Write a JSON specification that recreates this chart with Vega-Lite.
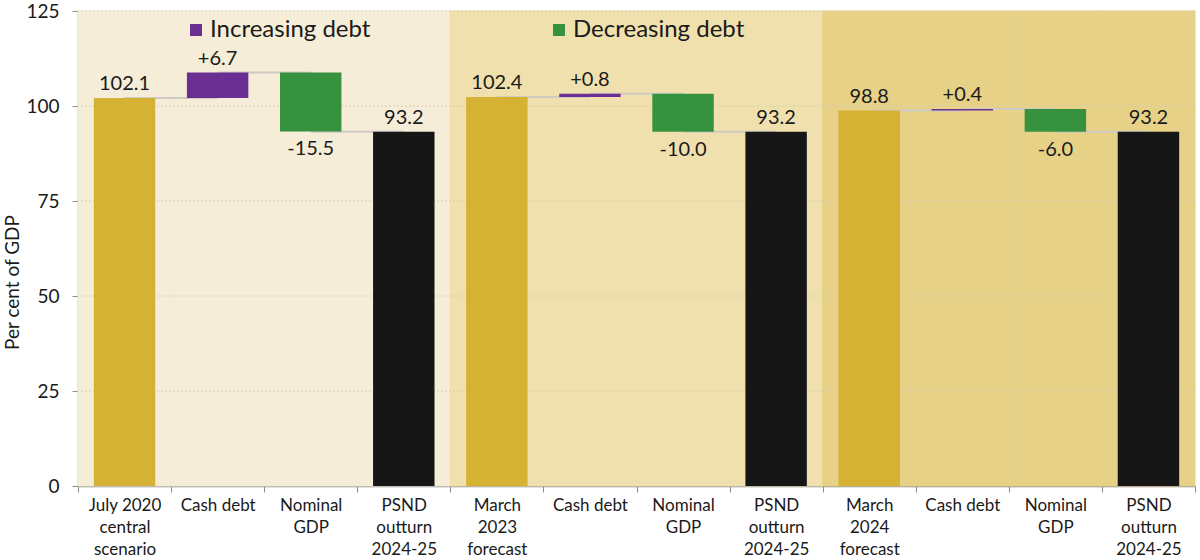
{
  "$schema": "https://vega.github.io/schema/vega-lite/v6.json",
  "width": 1117,
  "height": 475,
  "autosize": {"type": "none"},
  "padding": {"left": 78, "top": 11, "right": 5, "bottom": 74},
  "background": "white",
  "config": {
    "font": "Lato",
    "view": {"stroke": null},
    "text": {"font": "Lato", "color": "#1a1a1a"}
  },
  "datasets": {
    "steps": [
      {"cat": "1|July 2020|central|scenario", "grp": "A", "kind": "Forecast", "start": 0, "end": 102.1, "label": "102.1"},
      {"cat": "2|Cash debt", "grp": "A", "kind": "Increasing debt", "start": 102.1, "end": 108.8, "label": "+6.7"},
      {"cat": "3|Nominal|GDP", "grp": "A", "kind": "Decreasing debt", "start": 108.8, "end": 93.3, "label": "-15.5"},
      {"cat": "4|PSND|outturn|2024-25", "grp": "A", "kind": "Outturn", "start": 0, "end": 93.2, "label": "93.2"},
      {"cat": "5|March|2023|forecast", "grp": "B", "kind": "Forecast", "start": 0, "end": 102.4, "label": "102.4"},
      {"cat": "6|Cash debt", "grp": "B", "kind": "Increasing debt", "start": 102.4, "end": 103.2, "label": "+0.8"},
      {"cat": "7|Nominal|GDP", "grp": "B", "kind": "Decreasing debt", "start": 103.2, "end": 93.2, "label": "-10.0"},
      {"cat": "8|PSND|outturn|2024-25", "grp": "B", "kind": "Outturn", "start": 0, "end": 93.2, "label": "93.2"},
      {"cat": "9|March|2024|forecast", "grp": "C", "kind": "Forecast", "start": 0, "end": 98.8, "label": "98.8"},
      {"cat": "10|Cash debt", "grp": "C", "kind": "Increasing debt", "start": 98.8, "end": 99.2, "label": "+0.4"},
      {"cat": "11|Nominal|GDP", "grp": "C", "kind": "Decreasing debt", "start": 99.2, "end": 93.2, "label": "-6.0"},
      {"cat": "12|PSND|outturn|2024-25", "grp": "C", "kind": "Outturn", "start": 0, "end": 93.2, "label": "93.2"}
    ],
    "links": [
      {"from": "1|July 2020|central|scenario", "to": "2|Cash debt", "level": 102.1},
      {"from": "2|Cash debt", "to": "3|Nominal|GDP", "level": 108.8},
      {"from": "3|Nominal|GDP", "to": "4|PSND|outturn|2024-25", "level": 93.2},
      {"from": "5|March|2023|forecast", "to": "6|Cash debt", "level": 102.4},
      {"from": "6|Cash debt", "to": "7|Nominal|GDP", "level": 103.2},
      {"from": "7|Nominal|GDP", "to": "8|PSND|outturn|2024-25", "level": 93.2},
      {"from": "9|March|2024|forecast", "to": "10|Cash debt", "level": 98.8},
      {"from": "10|Cash debt", "to": "11|Nominal|GDP", "level": 99.2},
      {"from": "11|Nominal|GDP", "to": "12|PSND|outturn|2024-25", "level": 93.2}
    ],
    "gridlines": [{"v": 25}, {"v": 50}, {"v": 75}, {"v": 100}, {"v": 125}]
  },
  "layer": [
    {
      "data": {"name": "steps"},
      "mark": {"type": "bar", "width": {"band": 1}, "strokeWidth": 1},
      "encoding": {
        "x": {
          "field": "cat", "type": "nominal", "title": null,
          "scale": {
            "domain": ["1|July 2020|central|scenario", "2|Cash debt", "3|Nominal|GDP", "4|PSND|outturn|2024-25",
                       "5|March|2023|forecast", "6|Cash debt", "7|Nominal|GDP", "8|PSND|outturn|2024-25",
                       "9|March|2024|forecast", "10|Cash debt", "11|Nominal|GDP", "12|PSND|outturn|2024-25"],
            "paddingInner": 0, "paddingOuter": 0
          },
          "axis": {
            "labelExpr": "slice(split(datum.value, '|'), 1)",
            "labelAngle": 0,
            "labelFontSize": 17,
            "labelLineHeight": 22,
            "labelColor": "#1a1a1a",
            "labelPadding": 5,
            "labelBaseline": "top",
            "tickBand": "extent",
            "tickSize": 6,
            "tickColor": "#8c8c8c",
            "domainColor": "#8c8c8c",
            "domainWidth": 1.5,
            "grid": false
          }
        },
        "y": {"datum": 125, "type": "quantitative"},
        "y2": {"datum": 0},
        "color": {
          "field": "grp", "type": "nominal", "legend": null,
          "scale": {"domain": ["A", "B", "C"], "range": ["#F5EDD7", "#F0E0AD", "#E6D187"]}
        },
        "stroke": {
          "field": "grp", "type": "nominal", "legend": null,
          "scale": {"domain": ["A", "B", "C"], "range": ["#F5EDD7", "#F0E0AD", "#E6D187"]}
        }
      }
    },
    {
      "data": {"name": "gridlines"},
      "mark": {"type": "rule", "color": "#D8CDB0", "strokeWidth": 1, "strokeDash": [2, 2]},
      "encoding": {
        "y": {"field": "v", "type": "quantitative"}
      }
    },
    {
      "data": {"name": "links"},
      "mark": {"type": "rule", "color": "#CFCBC2", "strokeWidth": 2},
      "encoding": {
        "x": {"field": "from", "type": "nominal"},
        "x2": {"field": "to"},
        "y": {"field": "level", "type": "quantitative"}
      }
    },
    {
      "data": {"name": "steps"},
      "mark": {"type": "bar", "width": {"band": 0.66}},
      "encoding": {
        "x": {"field": "cat", "type": "nominal"},
        "y": {
          "field": "start", "type": "quantitative", "title": "Per cent of GDP",
          "scale": {"domain": [0, 125], "nice": false},
          "axis": {
            "values": [0, 25, 50, 75, 100, 125],
            "grid": false,
            "labelFontSize": 19,
            "labelColor": "#1a1a1a",
            "labelPadding": 13,
            "tickSize": 6,
            "tickColor": "#8c8c8c",
            "domainColor": "#8c8c8c",
            "domainWidth": 1.5,
            "titleFontSize": 19,
            "titleFontWeight": "normal",
            "titleColor": "#1a1a1a",
            "titleX": -66,
            "titleY": 271,
            "titleBaseline": "middle",
            "titleAngle": 270
          }
        },
        "y2": {"field": "end"},
        "color": {
          "field": "kind", "type": "nominal",
          "scale": {
            "domain": ["Increasing debt", "Decreasing debt", "Forecast", "Outturn"],
            "range": ["#6B2F93", "#37923F", "#D5B134", "#161616"]
          },
          "legend": {
            "values": ["Increasing debt", "Decreasing debt"],
            "title": null,
            "orient": "none",
            "direction": "horizontal",
            "legendX": 106,
            "legendY": 7,
            "symbolType": "square",
            "symbolSize": 144,
            "symbolStrokeWidth": 0,
            "labelFontSize": 24,
            "labelColor": "#1a1a1a",
            "labelOffset": 2,
            "labelLimit": 400,
            "columnPadding": 176
          }
        }
      }
    },
    {
      "data": {"name": "steps"},
      "transform": [{"filter": "datum.kind != 'Decreasing debt'"}],
      "mark": {"type": "text", "fontSize": 20, "baseline": "alphabetic", "dy": -8},
      "encoding": {
        "x": {"field": "cat", "type": "nominal"},
        "y": {"field": "end", "type": "quantitative"},
        "text": {"field": "label"}
      }
    },
    {
      "data": {"name": "steps"},
      "transform": [{"filter": "datum.kind == 'Decreasing debt'"}],
      "mark": {"type": "text", "fontSize": 20, "baseline": "top", "dy": 8},
      "encoding": {
        "x": {"field": "cat", "type": "nominal"},
        "y": {"field": "end", "type": "quantitative"},
        "text": {"field": "label"}
      }
    }
  ],
  "resolve": {"scale": {"color": "independent", "stroke": "independent"}}
}
